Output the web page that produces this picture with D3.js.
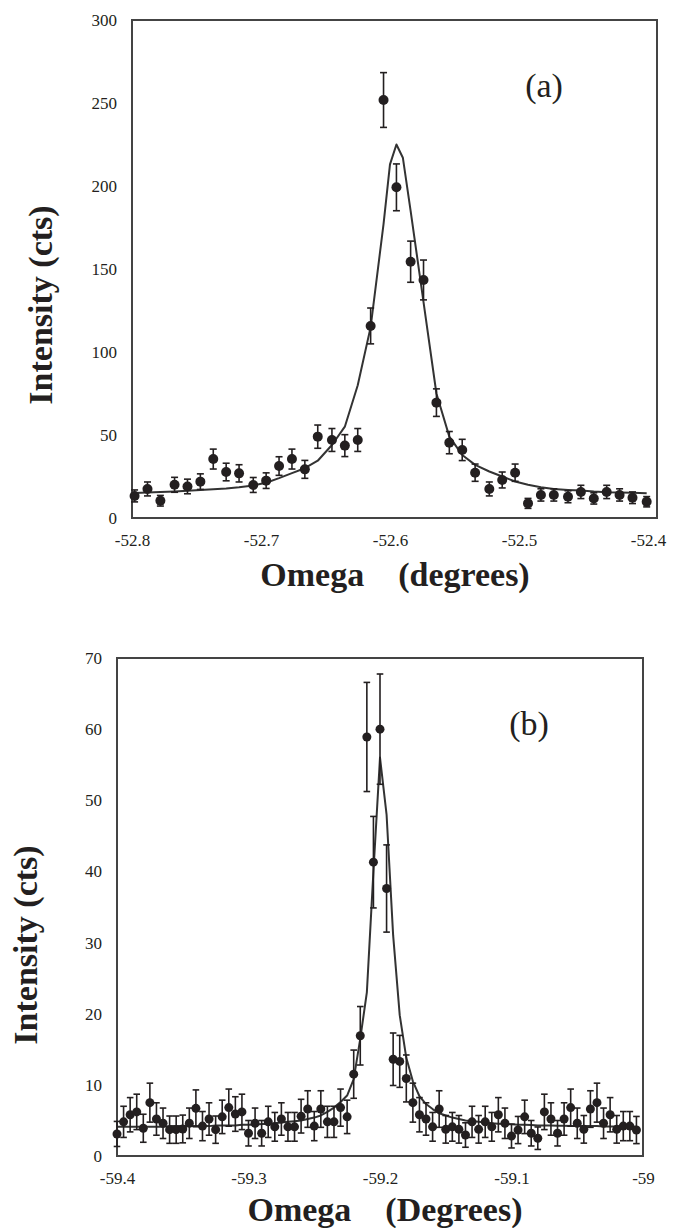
<!DOCTYPE html>
<html>
<head>
<meta charset="utf-8">
<script src="https://cdn.jsdelivr.net/npm/d3@7"></script>
<style>
body { margin: 0; background: #fff; }
</style>
</head>
<body>
<div id="chart"></div>
<script>
// panel (a) - omega scan around -52.6
var omegaA = [-52.798, -52.788, -52.778, -52.767, -52.757, -52.747, -52.737, -52.727, -52.717, -52.706,
    -52.696, -52.686, -52.676, -52.666, -52.656, -52.645, -52.635, -52.625, -52.615, -52.605,
    -52.595, -52.584, -52.574, -52.564, -52.554, -52.544, -52.534, -52.523, -52.513, -52.503,
    -52.493, -52.483, -52.473, -52.462, -52.452, -52.442, -52.432, -52.422, -52.412, -52.401];
var countsA = [13.3, 17.5, 10.4, 20, 19, 21.9, 35.5, 27.7, 26.9, 19.9,
    22.5, 31.3, 35.5, 29.3, 49, 47, 43.6, 47, 115.7, 251.8,
    199.2, 154.4, 143.4, 69.5, 45.4, 41, 27.3, 17.5, 22.9, 27.3,
    8.8, 13.9, 13.9, 12.8, 15.7, 11.8, 15.7, 13.9, 12.2, 9.8];
var errorsA = [3.6, 4.2, 3.2, 4.5, 4.4, 4.7, 6.0, 5.3, 5.2, 4.5,
    4.7, 5.6, 6.0, 5.4, 7.0, 6.9, 6.6, 6.9, 10.8, 16.5,
    14.1, 12.4, 12.0, 8.3, 6.7, 6.4, 5.2, 4.2, 4.8, 5.2,
    3.0, 3.7, 3.7, 3.6, 4.0, 3.4, 4.0, 3.7, 3.5, 3.1];
var fitOmegaA = [-52.798, -52.788, -52.778, -52.767, -52.757, -52.747, -52.737, -52.727, -52.717, -52.706,
    -52.696, -52.686, -52.676, -52.666, -52.656, -52.645, -52.635, -52.625, -52.615, -52.605,
    -52.600, -52.595, -52.590, -52.584, -52.574, -52.564, -52.554, -52.544, -52.534, -52.523,
    -52.513, -52.503, -52.493, -52.483, -52.473, -52.462, -52.452, -52.442, -52.432, -52.422,
    -52.412, -52.401];
var fitA = [15, 15.3, 15.6, 16, 16.4, 16.8, 17.3, 17.8, 18.5, 19.6,
    21.2, 24, 27, 30, 34.5, 44, 55, 80, 115, 177,
    213, 225, 217, 185, 130, 75, 49, 38, 32, 28,
    25, 22, 20, 18.5, 17.5, 16.9, 16.5, 15.9, 15.5, 15.3,
    15.2, 14.9];
var xTicksA = [-52.8, -52.7, -52.6, -52.5, -52.4];
var yTicksA = [0, 50, 100, 150, 200, 250, 300];

// panel (b) - omega scan around -59.2
var omegaB = [-59.400, -59.395, -59.390, -59.385, -59.380, -59.375, -59.370, -59.365, -59.360, -59.355,
    -59.350, -59.345, -59.340, -59.335, -59.330, -59.325, -59.320, -59.315, -59.310, -59.305,
    -59.300, -59.295, -59.290, -59.285, -59.280, -59.275, -59.270, -59.265, -59.260, -59.255,
    -59.250, -59.245, -59.240, -59.235, -59.230, -59.225, -59.220, -59.215, -59.210, -59.205,
    -59.200, -59.195, -59.190, -59.185, -59.180, -59.175, -59.170, -59.165, -59.160, -59.155,
    -59.150, -59.145, -59.140, -59.135, -59.130, -59.125, -59.120, -59.115, -59.110, -59.105,
    -59.100, -59.095, -59.090, -59.085, -59.080, -59.075, -59.070, -59.065, -59.060, -59.055,
    -59.050, -59.045, -59.040, -59.035, -59.030, -59.025, -59.020, -59.015, -59.010, -59.005];
var countsB = [3.1, 4.8, 5.8, 6.2, 3.9, 7.5, 5.2, 4.6, 3.7, 3.7,
    3.8, 4.6, 6.7, 4.2, 5.2, 3.7, 5.5, 6.8, 5.9, 6.2,
    3.2, 4.6, 3.2, 4.8, 4.1, 5.2, 4.1, 4.1, 5.6, 6.6,
    4.2, 6.6, 4.8, 4.8, 6.8, 5.5, 11.5, 16.9, 58.9, 41.3,
    60.0, 37.6, 13.6, 13.3, 10.9, 7.5, 5.8, 5.2, 4.1, 6.6,
    3.75, 4.1, 3.75, 2.95, 4.8, 3.75, 4.8, 4.1, 5.8, 4.6,
    2.8, 3.65, 5.5, 3.2, 2.5, 6.2, 5.2, 3.2, 5.2, 6.8,
    4.6, 3.75, 6.6, 7.5, 4.6, 5.8, 3.75, 4.2, 4.2, 3.65];
var errorsB = [1.76, 2.19, 2.41, 2.49, 1.97, 2.74, 2.28, 2.14, 1.92, 1.92,
    1.95, 2.14, 2.59, 2.05, 2.28, 1.92, 2.35, 2.61, 2.43, 2.49,
    1.79, 2.14, 1.79, 2.19, 2.02, 2.28, 2.02, 2.02, 2.37, 2.57,
    2.05, 2.57, 2.19, 2.19, 2.61, 2.35, 3.39, 4.11, 7.67, 6.43,
    7.75, 6.13, 3.69, 3.65, 3.30, 2.74, 2.41, 2.28, 2.02, 2.57,
    1.94, 2.02, 1.94, 1.72, 2.19, 1.94, 2.19, 2.02, 2.41, 2.14,
    1.67, 1.91, 2.35, 1.79, 1.58, 2.49, 2.28, 1.79, 2.28, 2.61,
    2.14, 1.94, 2.57, 2.74, 2.14, 2.41, 1.94, 2.05, 2.05, 1.91];
var fitB = [4.1, 4.1, 4.1, 4.1, 4.1, 4.1, 4.1, 4.1, 4.2, 4.2,
    4.2, 4.2, 4.2, 4.2, 4.2, 4.3, 4.3, 4.3, 4.3, 4.4,
    4.4, 4.4, 4.5, 4.5, 4.6, 4.7, 4.8, 4.9, 5.0, 5.2,
    5.4, 5.7, 6.2, 6.8, 7.6, 8.5, 10.8, 16.5, 23, 40,
    56, 48, 31, 19.8, 13.8, 10.5, 8.4, 7.3, 6.6, 6.0,
    5.7, 5.4, 5.2, 5.0, 4.9, 4.8, 4.7, 4.6, 4.55, 4.5,
    4.45, 4.4, 4.4, 4.35, 4.3, 4.3, 4.3, 4.25, 4.25, 4.2,
    4.2, 4.2, 4.2, 4.2, 4.15, 4.15, 4.15, 4.1, 4.1, 4.1];
var xTicksB = [-59.4, -59.3, -59.2, -59.1, -59];
var yTicksB = [0, 10, 20, 30, 40, 50, 60, 70];

var width = 677;
var height = 1228;
var ink = "#231f20";
var serif = "'Liberation Serif', 'Times New Roman', Times, 'DejaVu Serif', serif";

var svg = d3.select("#chart")
    .append("svg")
    .attr("width", width)
    .attr("height", height)
    .style("font-family", serif);

svg.append("rect")
    .attr("width", width)
    .attr("height", height)
    .attr("fill", "#fff");

function drawPanel(p) {
    var xScale = d3.scaleLinear().domain(p.xDomain).range([p.left, p.right]);
    var yScale = d3.scaleLinear().domain(p.yDomain).range([p.bottom, p.top]);
    var g = svg.append("g");

    // tick labels only, no tick marks
    g.append("g")
        .attr("transform", `translate(0, ${p.bottom})`)
        .call(d3.axisBottom(xScale).tickValues(p.xTicks).tickSize(0).tickPadding(16)
            .tickFormat(function (d) { return String(d); }))
        .call(function (a) { a.select(".domain").remove(); })
        .attr("font-family", null)
        .selectAll("text")
        .style("font-family", serif)
        .style("font-size", "17px")
        .attr("fill", ink);

    g.append("g")
        .attr("transform", `translate(${p.left}, 0)`)
        .call(d3.axisLeft(yScale).tickValues(p.yTicks).tickSize(0).tickPadding(15)
            .tickFormat(function (d) { return String(d); }))
        .call(function (a) { a.select(".domain").remove(); })
        .attr("font-family", null)
        .selectAll("text")
        .style("font-family", serif)
        .style("font-size", "17px")
        .attr("fill", ink);

    // plot frame
    g.append("rect")
        .attr("x", xScale(p.xDomain[0]))
        .attr("y", yScale(p.yDomain[1]))
        .attr("width", xScale(p.xDomain[1]) - xScale(p.xDomain[0]))
        .attr("height", yScale(p.yDomain[0]) - yScale(p.yDomain[1]))
        .attr("fill", "none")
        .attr("stroke", "#444")
        .attr("stroke-width", 2);

    // fitted curve
    g.append("path")
        .datum(d3.zip(p.fitX, p.fitY))
        .attr("fill", "none")
        .attr("stroke", "#333")
        .attr("stroke-width", 2)
        .attr("stroke-linejoin", "round")
        .attr("d", d3.line()
            .x(function (d) { return xScale(d[0]); })
            .y(function (d) { return yScale(d[1]); }));

    var pts = p.x.map(function (v, i) {
        return { x: v, y: p.y[i], e: p.err[i] };
    });

    // error bars
    var bars = g.selectAll("g.bar")
        .data(pts)
        .enter()
        .append("g")
        .attr("class", "bar")
        .attr("stroke", ink)
        .attr("stroke-width", 1.6);

    bars.append("line")
        .attr("x1", function (d) { return xScale(d.x); })
        .attr("x2", function (d) { return xScale(d.x); })
        .attr("y1", function (d) { return yScale(d.y - d.e); })
        .attr("y2", function (d) { return yScale(d.y + d.e); });

    [-1, 1].forEach(function (s) {
        bars.append("line")
            .attr("x1", function (d) { return xScale(d.x) - p.cap; })
            .attr("x2", function (d) { return xScale(d.x) + p.cap; })
            .attr("y1", function (d) { return yScale(d.y + s * d.e); })
            .attr("y2", function (d) { return yScale(d.y + s * d.e); });
    });

    g.selectAll("circle")
        .data(pts)
        .enter()
        .append("circle")
        .attr("cx", function (d) { return xScale(d.x); })
        .attr("cy", function (d) { return yScale(d.y); })
        .attr("r", p.r)
        .attr("fill", ink);

    // Y axis title
    g.append("text")
        .attr("transform", `translate(${p.yTitleX}, ${p.yTitleY}) rotate(-90)`)
        .attr("text-anchor", "middle")
        .style("font-family", serif)
        .style("font-size", "34px")
        .style("font-weight", "bold")
        .attr("fill", ink)
        .text("Intensity (cts)");

    // X axis title
    g.append("text")
        .attr("x", p.xTitleX)
        .attr("y", p.xTitleY)
        .attr("text-anchor", "middle")
        .style("font-family", serif)
        .style("font-size", "34px")
        .style("font-weight", "bold")
        .style("white-space", "pre")
        .attr("fill", ink)
        .text(p.xTitle);

    // panel tag
    g.append("text")
        .attr("x", p.tagX)
        .attr("y", p.tagY)
        .attr("text-anchor", "middle")
        .style("font-family", serif)
        .style("font-size", "34px")
        .attr("fill", ink)
        .text(p.tag);
}

drawPanel({
    x: omegaA, y: countsA, err: errorsA, fitX: fitOmegaA, fitY: fitA,
    xTicks: xTicksA, yTicks: yTicksA,
    xDomain: [-52.8, -52.393], yDomain: [0, 300],
    left: 132, right: 657, top: 20, bottom: 518,
    r: 5, cap: 3.5,
    yTitleX: 52, yTitleY: 305,
    xTitle: "Omega    (degrees)", xTitleX: 395, xTitleY: 586,
    tag: "(a)", tagX: 544, tagY: 97
});

drawPanel({
    x: omegaB, y: countsB, err: errorsB, fitX: omegaB, fitY: fitB,
    xTicks: xTicksB, yTicks: yTicksB,
    xDomain: [-59.4, -59], yDomain: [0, 70],
    left: 117, right: 643, top: 658, bottom: 1156,
    r: 4.5, cap: 3.3,
    yTitleX: 37, yTitleY: 945,
    xTitle: "Omega    (Degrees)", xTitleX: 385, xTitleY: 1221,
    tag: "(b)", tagX: 529, tagY: 735
});
</script>
</body>
</html>
